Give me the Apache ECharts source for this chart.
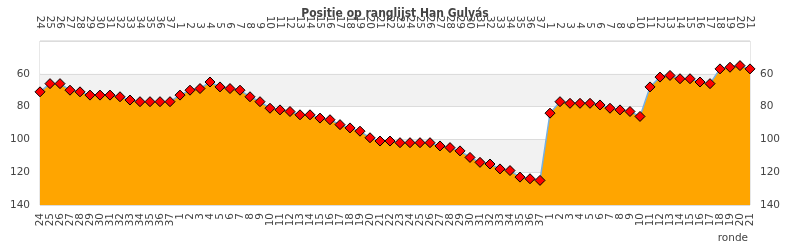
<!DOCTYPE html>
<html><head><meta charset="utf-8">
<script src="https://cdn.jsdelivr.net/npm/echarts@6/dist/echarts.min.js"></script>
<style>html,body{margin:0;padding:0;background:#fff}#c{width:790px;height:250px}</style>
</head><body><div id="c"></div>
<script>
var titleText = 'Positie op ranglijst Han Gulyás';
var axisName = 'ronde';
var rounds = ['24','25','26','27','28','29','30','31','32','33','34','35','36','37',
 '1','2','3','4','5','6','7','8','9','10','11','12','13','14','15','16','17','18','19','20',
 '21','22','23','24','25','26','27','28','29','30','31','32','33','34','35','36','37',
 '1','2','3','4','5','6','7','8','9','10','11','12','13','14','15','16','17','18','19','20','21'];
var positions = [71,66,66,70,71,73,73,73,74,76,77,77,77,77,
 73,70,69,65,68,69,70,74,77,81,82,83,85,85,87,88,91,93,95,99,
 101,101,102,102,102,102,104,105,107,111,114,115,118,119,123,124,125,
 84,77,78,78,78,79,81,82,83,86,68,62,61,63,63,65,66,57,56,55,57];
var yTicks = [40,60,80,100,120,140];

var chart = echarts.init(document.getElementById('c'), null, {renderer:'canvas'});
var font = 'DejaVu Sans';
function xAxisCfg(pos){
  return {
    type:'category', position:pos, data:rounds, boundaryGap:false,
    axisLine:{show:false}, axisTick:{show:false},
    axisLabel:{interval:0, rotate:90, fontFamily:font, fontSize:10.5, color:'#444', margin: pos==='top'?12:8}
  };
}
function yAxisCfg(pos){
  return {
    type:'value', position:pos, inverse:true,
    min:yTicks[0], max:yTicks[yTicks.length-1], interval:20,
    axisLine:{show:false}, axisTick:{show:false},
    axisLabel:{fontFamily:font, fontSize:10.5, color:'#444', margin:10,
      formatter:function(v){return v===yTicks[0]?'':String(v);}},
    splitLine:{show: pos==='left', lineStyle:{color:'#dcdcdc'}},
    splitArea:{show: pos==='left', areaStyle:{color:['#ffffff','#f2f2f2']}}
  };
}
chart.setOption({
  animation:false,
  title:{text:titleText, left:'center', top:3,
    textStyle:{fontFamily:'DejaVu Sans Condensed', fontWeight:'bold', fontSize:12, color:'#444'}},
  grid:{left:40, right:40, top:41, bottom:45, show:true, borderColor:'#d0d0d0', borderWidth:1, backgroundColor:'transparent'},
  xAxis:[xAxisCfg('bottom'), xAxisCfg('top')],
  yAxis:[yAxisCfg('left'), yAxisCfg('right')],
  graphic:[{type:'text', right:42, top:233, style:{text:axisName, font:'10.5px "DejaVu Sans"', fill:'#444'}}],
  series:[{
    type:'line', data:positions, xAxisIndex:0, yAxisIndex:0,
    symbol:'diamond', symbolSize:10, showAllSymbol:true,
    itemStyle:{color:'#ff0000', borderColor:'#000', borderWidth:1},
    lineStyle:{color:'#74b0e4', width:1.5},
    areaStyle:{color:'#ffa500', opacity:1, origin:'end'}
  }]
});
</script></body></html>
